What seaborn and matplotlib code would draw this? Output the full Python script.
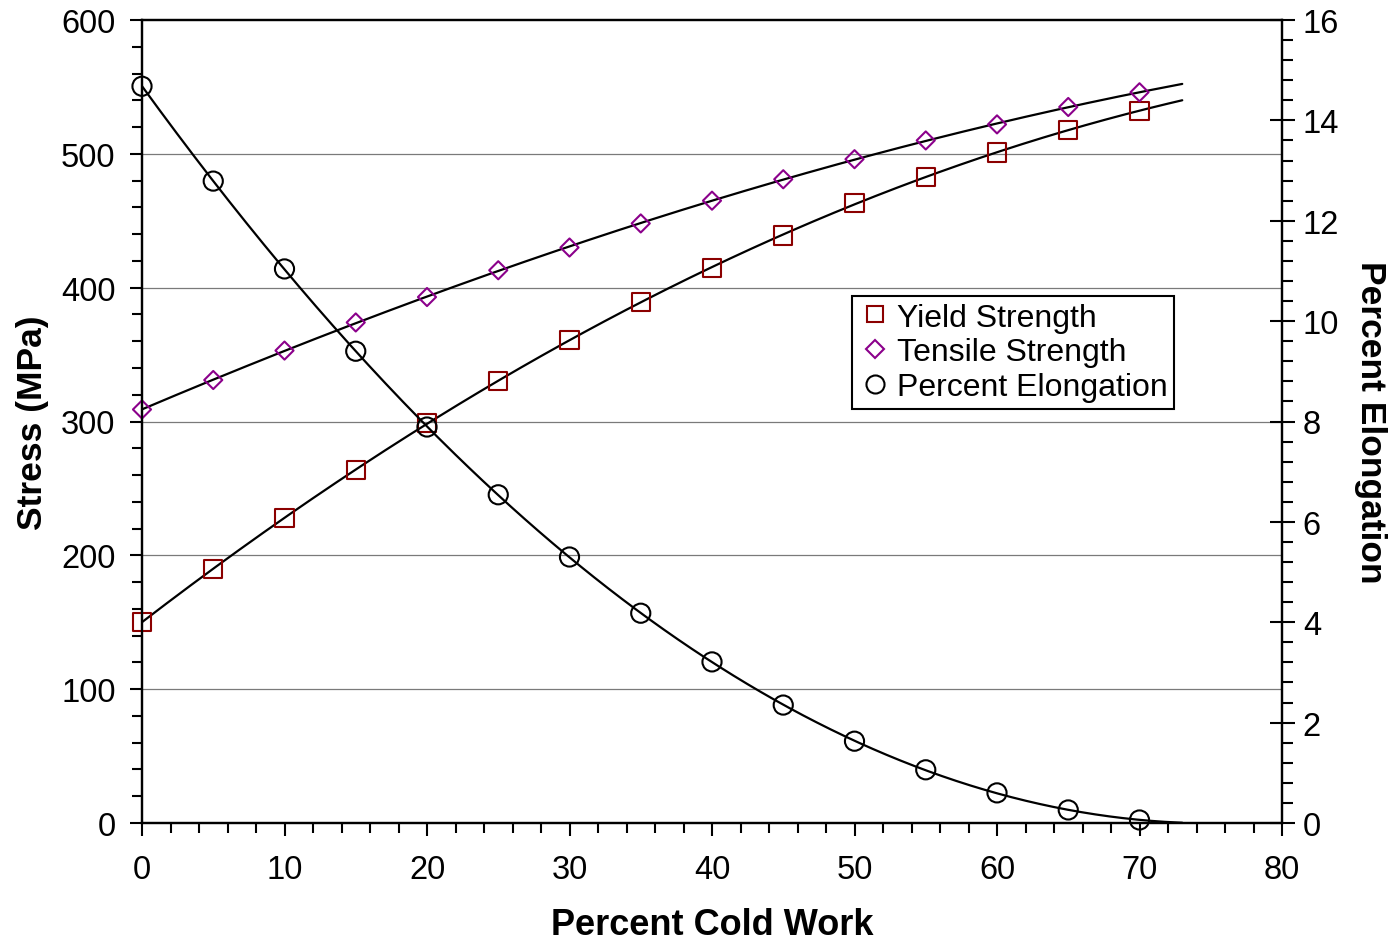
import numpy as np
import pandas as pd
import matplotlib
matplotlib.use("Agg")
import matplotlib.pyplot as plt
import seaborn as sns
from matplotlib.ticker import MultipleLocator
from matplotlib.lines import Line2D

# ---- data ----
cold_work = [0, 5, 10, 15, 20, 25, 30, 35, 40, 45, 50, 55, 60, 65, 70]
yield_strength = [150, 190, 228, 264, 299, 330, 361, 389, 415, 439, 463, 483, 501, 518, 532]
tensile_strength = [309, 331, 353, 374, 393, 413, 430, 448, 465, 481, 496, 510, 522, 535, 546]
elongation = [14.68, 12.79, 11.04, 9.40, 7.89, 6.54, 5.30, 4.18, 3.21, 2.35, 1.63, 1.06, 0.60, 0.26, 0.06]
series_labels = ["Yield Strength", "Tensile Strength", "Percent Elongation"]

sns.set_style("ticks")
plt.rcParams["font.family"] = ["Liberation Sans", "DejaVu Sans"]
plt.rcParams["text.color"] = "black"
plt.rcParams["axes.labelcolor"] = "black"
plt.rcParams["xtick.color"] = "black"
plt.rcParams["ytick.color"] = "black"

fig = plt.figure(figsize=(13.95, 9.45), dpi=100)
ax = fig.add_axes([142 / 1395, 121 / 945, 1140 / 1395, 803 / 945])
ax2 = ax.twinx()

x_fit = np.linspace(0, 73, 300)
df = pd.DataFrame({"cw": cold_work, "ys": yield_strength, "ts": tensile_strength, "el": elongation})

for col, a in [("ys", ax), ("ts", ax)]:
    p = np.polyfit(df["cw"], df[col], 3)
    sns.lineplot(x=x_fit, y=np.polyval(p, x_fit), ax=a, color="black", lw=1.6, zorder=2)
p_el = np.polyfit(df["cw"], df["el"], 3)
sns.lineplot(x=x_fit, y=np.clip(np.polyval(p_el, x_fit), 0, None), ax=ax2, color="black", lw=1.6, zorder=2)

ys_color = "#8B0000"
ts_color = "#8B008B"
sns.scatterplot(data=df, x="cw", y="ys", ax=ax, marker="s", s=170, facecolor="none",
                edgecolor=ys_color, linewidth=1.5, zorder=3, clip_on=False)
sns.scatterplot(data=df, x="cw", y="ts", ax=ax, marker="D", s=85, facecolor="none",
                edgecolor=ts_color, linewidth=1.5, zorder=3, clip_on=False)
sns.scatterplot(data=df, x="cw", y="el", ax=ax2, marker="o", s=190, facecolor="none",
                edgecolor="black", linewidth=1.5, zorder=3, clip_on=False)

ax.set_xlim(0, 80)
ax.set_ylim(0, 600)
ax2.set_ylim(0, 16)
ax.xaxis.set_major_locator(MultipleLocator(10))
ax.xaxis.set_minor_locator(MultipleLocator(2))
ax.yaxis.set_major_locator(MultipleLocator(100))
ax.yaxis.set_minor_locator(MultipleLocator(20))
ax2.yaxis.set_major_locator(MultipleLocator(2))
ax2.yaxis.set_minor_locator(MultipleLocator(0.4))

for y in [100, 200, 300, 400, 500]:
    ax.axhline(y, color="#7a7a7a", lw=0.9, zorder=1)

for a in (ax, ax2):
    for s in a.spines.values():
        s.set_linewidth(1.6)
        s.set_color("black")
        s.set_visible(True)

ax.tick_params(axis="both", which="major", direction="out", length=9, width=1.5,
               labelsize=23.5, colors="black")
ax.tick_params(axis="x", which="major", pad=13)
ax.tick_params(axis="y", which="major", pad=10)
ax.tick_params(axis="both", which="minor", direction="out", length=7, width=1.5)
ax2.tick_params(axis="y", which="major", direction="inout", length=18, width=1.5,
                labelsize=23.5, pad=6, colors="black")
ax2.tick_params(axis="y", which="minor", direction="out", length=8, width=1.5)

ax.set_xlabel("Percent Cold Work", fontsize=26, fontweight="bold", labelpad=16, color="black")
ax.set_ylabel("Stress (MPa)", fontsize=25.5, fontweight="bold", labelpad=9, color="black")
ax2.set_ylabel("Percent Elongation", fontsize=25.5, fontweight="bold", rotation=270,
               labelpad=34, color="black")

handles = [
    Line2D([], [], ls="", marker="s", ms=12, mfc="none", mec=ys_color, mew=1.5),
    Line2D([], [], ls="", marker="D", ms=9, mfc="none", mec=ts_color, mew=1.5),
    Line2D([], [], ls="", marker="o", ms=13, mfc="none", mec="black", mew=1.5),
]
leg = ax2.legend(handles, series_labels, loc="upper left", bbox_to_anchor=(0.623, 0.656),
                 fontsize=23, frameon=True, fancybox=False, edgecolor="black", framealpha=1,
                 borderpad=0.2, handletextpad=0.2, labelspacing=0.15, handlelength=1.0,
                 borderaxespad=0)
leg.get_frame().set_linewidth(1.5)
for t in leg.get_texts():
    t.set_color("black")

fig.savefig("out.png", dpi=100)
